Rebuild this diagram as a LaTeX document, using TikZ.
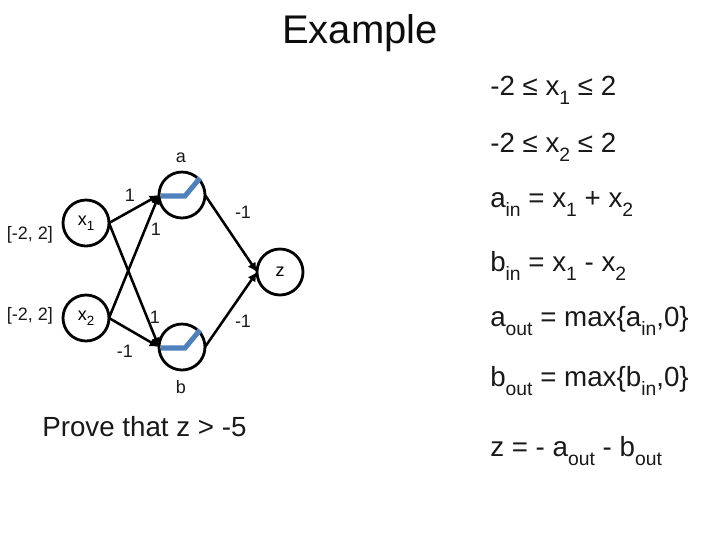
\documentclass[tikz,border=0pt]{standalone}
\usepackage{fontspec}
\setmainfont{Liberation Sans}
\usetikzlibrary{arrows.meta}
\newcommand{\lowb}[1]{\raisebox{-0.36em}{\fontsize{14.5}{15}\selectfont #1}}
\newcommand{\lows}[1]{\raisebox{-0.3em}{\fontsize{10}{11}\selectfont #1}}
\tikzset{
  neuron/.style={circle,draw=black,line width=2.1pt,minimum size=34.5pt,inner sep=0pt,outer sep=0pt,font=\fontsize{13.5}{15}\selectfont},
  wire/.style={line width=1.9pt,-{Latex[length=7pt,width=7pt]}},
  ramp/.style={draw=rampblue,line width=3.8pt},
  small/.style={inner sep=0pt,font=\fontsize{13.5}{15}\selectfont,text=black!90},
  eqn/.style={inner sep=0pt,anchor=base west,font=\fontsize{20.8}{24}\selectfont,text=black!90},
  heading/.style={inner sep=0pt,anchor=base,font=\fontsize{30}{36}\selectfont,text=black!95}
}
\definecolor{rampblue}{HTML}{4F81BD}
\begin{document}
\begin{tikzpicture}[x=0.75pt,y=-0.75pt]
\useasboundingbox (0,0) rectangle (720,540);
\node[heading] (title) at (360,43) {Example};
\node[neuron] (x1) at (86,223) {x\lows{1}};
\node[neuron] (x2) at (86,318) {x\lows{2}};
\node[neuron] (a) at (182,195) {};
\node[neuron] (b) at (182,347) {};
\node[neuron] (z) at (280,272) {z};
\draw[ramp] (a.west) ++(2,1) -- ++(24,0) -- ++(15,-18);
\draw[ramp] (b.west) ++(2,1) -- ++(24,0) -- ++(15,-18);
\draw[wire] (x1.east) -- (a.west);
\draw[wire] (x1.east) -- (b.west);
\draw[wire] (x2.east) -- (a.west);
\draw[wire] (x2.east) -- (b.west);
\draw[wire] (a.east) -- (z.west);
\draw[wire] (b.east) -- (z.west);
\node[small] (la) at (181,158) {a};
\node[small] (lb) at (181,387) {b};
\node[small] (r1) at (30,235) {[-2, 2]};
\node[small] (r2) at (30,316) {[-2, 2]};
\node[small] (w1) at (130,195) {1};
\node[small] (w2) at (156,229) {1};
\node[small] (w3) at (155,317) {1};
\node[small] (w4) at (125,351) {-1};
\node[small] (w5) at (243,212) {-1};
\node[small] (w6) at (243,321) {-1};
\node[eqn] (e1) at (490,95) {-2 ≤ x\lowb{1} ≤ 2};
\node[eqn] (e2) at (490,152) {-2 ≤ x\lowb{2} ≤ 2};
\node[eqn] (e3) at (490,207) {a\lowb{in} = x\lowb{1} + x\lowb{2}};
\node[eqn] (e4) at (490,271) {b\lowb{in} = x\lowb{1} - x\lowb{2}};
\node[eqn] (e5) at (490,326) {a\lowb{out} = max\{a\lowb{in},0\}};
\node[eqn] (e6) at (490,386) {b\lowb{out} = max\{b\lowb{in},0\}};
\node[eqn] (e7) at (490,456) {z = - a\lowb{out} - b\lowb{out}};
\node[eqn] (p) at (42,436) {Prove that z > -5};
\end{tikzpicture}
\end{document}
